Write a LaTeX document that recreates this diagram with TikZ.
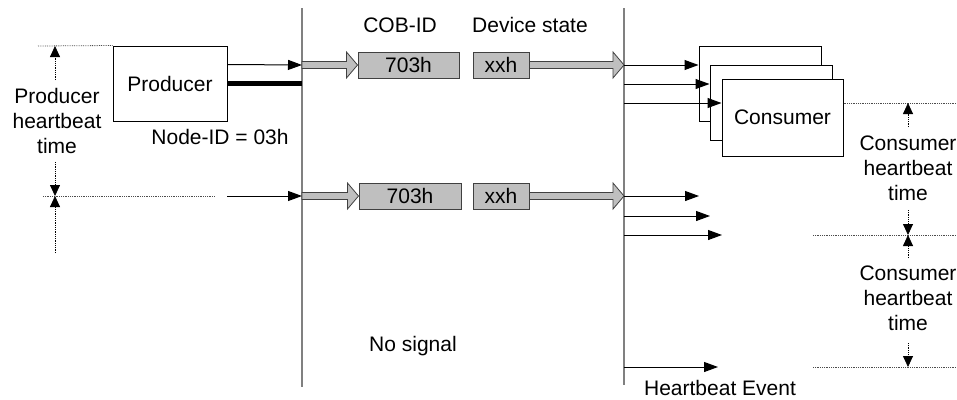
\documentclass[tikz,border=0pt]{standalone}
\usepackage{fontspec}
\setmainfont{Liberation Sans}
\usetikzlibrary{arrows.meta,calc}
\tikzset{
	thin arrow/.style={-{Triangle[length=14pt,width=10pt]},line width=1},
	dim arrow/.style={densely dotted,-{Triangle[length=11pt,width=10pt,sep=0pt]},line width=0.8},
	dimline/.style={densely dotted,line width=0.8,black!70},
	timeline/.style={line width=1.5,black!50},
	msgbox/.style={draw=black!75,fill=black!25,line width=1,minimum height=26,inner sep=0},
	conbox/.style={draw,fill=white,line width=1,inner sep=0},
	fat/.style={draw=black!75,fill=black!25,line width=0.8}
}
\newcommand{\fatarrow}[2]{\draw[fat] ($(#1)+(0,-3.5)$) -- ($(#2)+(-11,-3.5)$) -- ($(#2)+(-11,-13)$) -- (#2) -- ($(#2)+(-11,13)$) -- ($(#2)+(-11,3.5)$) -- ($(#1)+(0,3.5)$) -- cycle;}
\begin{document}
\begin{tikzpicture}[x=1pt,y=-1pt,font=\fontsize{21}{25}\selectfont]
		\useasboundingbox (0,0) rectangle (957,399);
		% time lines
		\coordinate (ptop) at (302,8);
		\coordinate (pbot) at (302,387);
		\coordinate (ctop) at (624,8);
		\coordinate (cbot) at (624,385);
		\draw[timeline] (ptop) -- (pbot);
		\draw[timeline] (ctop) -- (cbot);
		% producer
		\node[draw,line width=1,minimum width=114,minimum height=75,inner sep=0] (prod) at (170,83.5) {Producer};
		\node (nodeid) at (220,137) {Node-ID = 03h};
		\coordinate (in1) at (302,65);
		\coordinate (in2) at (302,196);
		\coordinate (src2) at (227,196);
		\draw[thin arrow] ($(prod.north east)+(0,19)$) -- (in1);
		\draw[line width=5] (prod.east) -- (prod.east -| ptop);
		\draw[thin arrow] (src2) -- (in2);
		\draw[dimline] (38,46) -- (prod.north west);
		\draw[dimline] (43,196) -- (215,196);
		\draw[dim arrow] (55,80) -- (55,46);
		\draw[dim arrow] (55,162) -- (55,196);
		\draw[dim arrow] (55,253) -- (55,196);
		\node[align=center] (prodlbl) at (57,121) {Producer\\heartbeat\\time};
		% messages
		\node (cobid) at (400,25) {COB-ID};
		\node (devstate) at (530,25) {Device state};
		\node[msgbox,minimum width=101] (cob1) at (408.5,65) {703h};
		\node[msgbox,minimum width=56] (xxh1) at (501,65) {xxh};
		\node[msgbox,minimum width=102] (cob2) at (410,196) {703h};
		\node[msgbox,minimum width=56] (xxh2) at (501,196) {xxh};
		\coordinate (out1) at (624,65);
		\coordinate (out2) at (624,196);
		\fatarrow{in1}{cob1.west}
		\fatarrow{xxh1.east}{out1}
		\fatarrow{in2}{cob2.west}
		\fatarrow{xxh2.east}{out2}
		\node (nosig) at (413,346) {No signal};
		% consumers
		\node[conbox,minimum width=122,minimum height=75] (con1) at (760,83.5) {};
		\node[conbox,minimum width=122,minimum height=75] (con2) at (771,102.5) {};
		\node[conbox,minimum width=121,minimum height=77] (con3) at (782.5,117.5) {Consumer};
		\draw[thin arrow] (out1) -- (con1.west |- out1);
		\draw[thin arrow] (624,84) -- (con2.west |- 0,84);
		\draw[thin arrow] (624,103) -- (con3.west |- 0,103);
		\draw[thin arrow] (out2) -- (699,196);
		\draw[thin arrow] (624,216) -- (710,216);
		\draw[thin arrow] (624,235) -- (722,235);
		\draw[thin arrow] (624,367) -- (718,367);
		\node (hbevent) at (720,388) {Heartbeat Event};
		% consumer heartbeat time
		\draw[dimline] (con3.east |- 0,103) -- (957,103);
		\draw[dimline] (813,235) -- (957,235);
		\draw[dimline] (813,367) -- (957,367);
		\draw[dim arrow] (908,127) -- (908,103);
		\draw[dim arrow] (908,210) -- (908,235);
		\draw[dim arrow] (908,258) -- (908,235);
		\draw[dim arrow] (908,343) -- (908,367);
		\node[align=center] (cons1lbl) at (908,168) {Consumer\\heartbeat\\time};
		\node[align=center] (cons2lbl) at (908,298) {Consumer\\heartbeat\\time};
\end{tikzpicture}
\end{document}
